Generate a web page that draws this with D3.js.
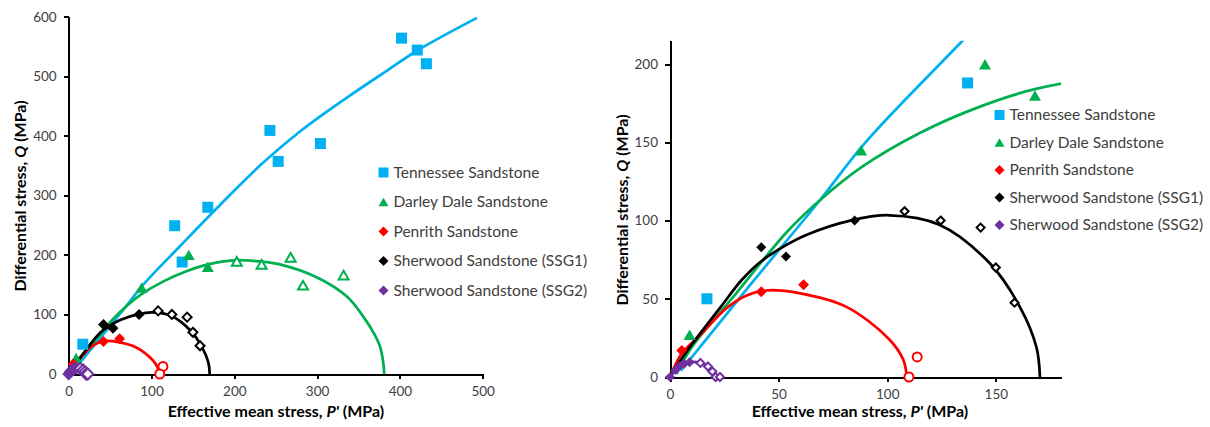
<!DOCTYPE html>
<meta charset="utf-8">
<style>
body { margin: 0; background: #fff; }
svg { font-family: Lato, "Open Sans", sans-serif; }
.axis path, .axis line { stroke: #000; stroke-width: 2px; shape-rendering: crispEdges; }
.axis text { font-size: 13.5px; fill: #404040; font-family: Lato, sans-serif; }
.title { font-size: 16px; font-weight: bold; fill: #000; }
.legend text { font-size: 15.5px; fill: #404040; }
.curve { fill: none; stroke-width: 2.75px; stroke-linejoin: round; }
</style>
<body>
<div id="plotHere"></div>
<script src="https://d3js.org/d3.v7.min.js"></script>
<script>
//------------------------ DATA ------------------------//
const seriesNames = ["Tennessee Sandstone", "Darley Dale Sandstone", "Penrith Sandstone",
                     "Sherwood Sandstone (SSG1)", "Sherwood Sandstone (SSG2)"];
const seriesColors = ["#00B0F0", "#00B050", "#FF0000", "#000000", "#7030A0"];
const seriesShapes = ["square", "triangle", "diamond", "diamond", "diamond"];
const openShapes   = ["square", "triangle", "circle", "diamond", "diamond"];

// measured points [P', Q] in MPa
const tennesseePts = [[17,50],[128,249],[137,188],[168,280],[243,409],[253,357],[304,387],[402,564],[421,544],[432,521]];
const darleyPts    = [[9,27],[88,145],[145,200],[168,180]];
const darleyOpen   = [[203,189],[233,184],[268,196],[283,149],[332,166]];
const penrithPts   = [[5.4,17],[42,54.5],[61.5,59]];
const penrithOpen  = [[113.8,12.8],[110,0]];
const ssg1Pts      = [[42,83],[53.4,77],[85,100]];
const ssg1Open     = [[108,106],[124.6,100],[143,95.5],[150,70],[158.6,47.5]];
const ssg2Pts      = [[0,0],[2.5,4.5],[4.5,7],[6.5,8.5],[9,9.5]];
const ssg2Open     = [[14,9],[17.5,6.7],[19.5,3.5],[21,0],[23,0]];

// model curves
const tennesseeCurve = [[5,4],[37,59],[69,113],[90,150],[134,214],[180,280],[231,350],[280,408],[300,429],[340,468],[384,509],[422,544],[493,598]];
const darleyCurve    = [[3,2],[10,19],[29,51],[54,93],[69,113],[88,134],[115,156],[143,173],[168,184],[200,191],[230,189],[255,184],[300,162],[336,130],[356,96],[370,65],[376,46],[380,18],[381,0]];
const penrithCurve   = [[0,0],[5.4,15],[14,27],[26,44],[35,52],[44,55.3],[60,53.5],[81,45],[101,24],[107.4,11],[109,0]];
const ssg1Curve      = [[0,0],[6,13],[14,28],[24,46],[33,62],[42,74],[53,84],[63,91],[83,100],[101,103.4],[124,97.4],[147,73],[161,45],[168.7,19],[170.3,0]];
const ssg2Curve      = [[0,0],[2.5,4.5],[5,7.5],[9,9.5],[14,9],[17.5,6.5],[20,3],[21,0]];

const leftXTicks = [0,100,200,300,400,500];
const leftYTicks = [0,100,200,300,400,500,600];
const rightXTicks = [0,50,100,150];
const rightYTicks = [0,50,100,150,200];

const filledSets = [tennesseePts, darleyPts, penrithPts, ssg1Pts, ssg2Pts];
const openSets   = [[], darleyOpen, penrithOpen, ssg1Open, ssg2Open];
const curveSets  = [tennesseeCurve, darleyCurve, penrithCurve, ssg1Curve, ssg2Curve];

//------------------------ SVG ------------------------//
const svg = d3.select("#plotHere").append("svg")
    .attr("width", 1210)
    .attr("height", 427);

function shapePath(shape, s) {
  const h = s / 2;
  if (shape === "square") return `M${-h},${-h}h${s}v${s}h${-s}Z`;
  if (shape === "triangle") { const t = s * 0.87 / 2; return `M0,${-t}L${h},${t}L${-h},${t}Z`; }
  if (shape === "diamond") return `M0,${-h}L${h},0L0,${h}L${-h},0Z`;
  return `M${h},0A${h},${h} 0 1,1 ${-h},0A${h},${h} 0 1,1 ${h},0Z`;
}

function drawChart(c) {
  const x = d3.scaleLinear().domain(c.xDomain).range(c.xRange);
  const y = d3.scaleLinear().domain(c.yDomain).range(c.yRange);
  const g = svg.append("g");

  const clipId = "clip" + c.id;
  svg.append("clipPath").attr("id", clipId).append("rect")
      .attr("x", c.xRange[0]).attr("y", c.yRange[1])
      .attr("width", c.xRange[1] - c.xRange[0])
      .attr("height", c.yRange[0] - c.yRange[1]);

  // axes
  g.append("g").attr("class", "axis")
      .attr("transform", "translate(0," + c.yRange[0] + ")")
      .call(d3.axisBottom(x).tickValues(c.xTicks).tickSize(5).tickSizeOuter(0).tickPadding(7));
  g.append("g").attr("class", "axis")
      .attr("transform", "translate(" + c.xRange[0] + ",0)")
      .call(d3.axisLeft(y).tickValues(c.yTicks).tickSize(5).tickSizeOuter(0).tickPadding(7));

  // curves
  const line = d3.line()
      .x(d => x(d[0])).y(d => y(d[1]))
      .curve(d3.curveCatmullRom.alpha(0.5));
  const cg = g.append("g").attr("clip-path", "url(#" + clipId + ")");
  curveSets.forEach((cv, i) => {
    cg.append("path").datum(cv)
      .attr("class", "curve")
      .attr("stroke", seriesColors[i])
      .attr("d", line);
  });

  // markers
  const inside = p => p[0] <= c.xDomain[1] && p[1] <= c.yDomain[1];
  filledSets.forEach((pts, i) => {
    const s = c.sizes[i];
    g.append("g").selectAll("path").data(pts.filter(inside)).join("path")
      .attr("transform", d => "translate(" + x(d[0]) + "," + y(d[1]) + ")")
      .attr("d", shapePath(seriesShapes[i], s))
      .attr("fill", seriesColors[i]);
    g.append("g").selectAll("path").data(openSets[i].filter(inside)).join("path")
      .attr("transform", d => "translate(" + x(d[0]) + "," + y(d[1]) + ")")
      .attr("d", shapePath(openShapes[i], openShapes[i] === "circle" ? 9 : s - 2))
      .attr("fill", "#fff")
      .attr("stroke", seriesColors[i])
      .attr("stroke-width", 2);
  });

  // axis titles
  const xt = g.append("text").attr("class", "title")
      .attr("x", c.xTitle[0]).attr("y", c.xTitle[1])
      .attr("text-anchor", "middle");
  xt.append("tspan").text("Effective mean stress, ");
  xt.append("tspan").style("font-style", "italic").text("P'");
  xt.append("tspan").text(" (MPa)");

  const yt = g.append("text").attr("class", "title")
      .attr("transform", "translate(" + c.yTitle[0] + "," + c.yTitle[1] + ") rotate(-90)")
      .attr("text-anchor", "middle")
      .attr("dy", "0.35em");
  yt.append("tspan").text("Differential stress, ");
  yt.append("tspan").style("font-style", "italic").text("Q");
  yt.append("tspan").text(" (MPa)");

  // legend
  const lg = g.append("g").attr("class", "legend");
  seriesNames.forEach((name, i) => {
    const ly = c.legend[1] + i * c.legend[2];
    lg.append("path")
      .attr("transform", "translate(" + c.legend[0] + "," + ly + ")")
      .attr("d", shapePath(seriesShapes[i], 10))
      .attr("fill", seriesColors[i]);
    lg.append("text")
      .attr("x", c.legend[0] + 10).attr("y", ly)
      .attr("dy", "0.35em")
      .text(name);
  });
}

drawChart({
  id: "L",
  xDomain: [0, 500], xRange: [68.7, 482.7],
  yDomain: [0, 600], yRange: [374, 16.7],
  xTicks: leftXTicks, yTicks: leftYTicks,
  sizes: [11, 12, 11, 11, 13],
  xTitle: [276, 417], yTitle: [20, 196],
  legend: [383.5, 172.5, 29.5]
});

drawChart({
  id: "R",
  xDomain: [0, 180], xRange: [670, 1061],
  yDomain: [0, 215], yRange: [377, 40.7],
  xTicks: rightXTicks, yTicks: rightYTicks,
  sizes: [11, 12, 11, 10, 10],
  xTitle: [860, 417], yTitle: [622, 210],
  legend: [999.5, 115, 27.5]
});
</script>
</body>
